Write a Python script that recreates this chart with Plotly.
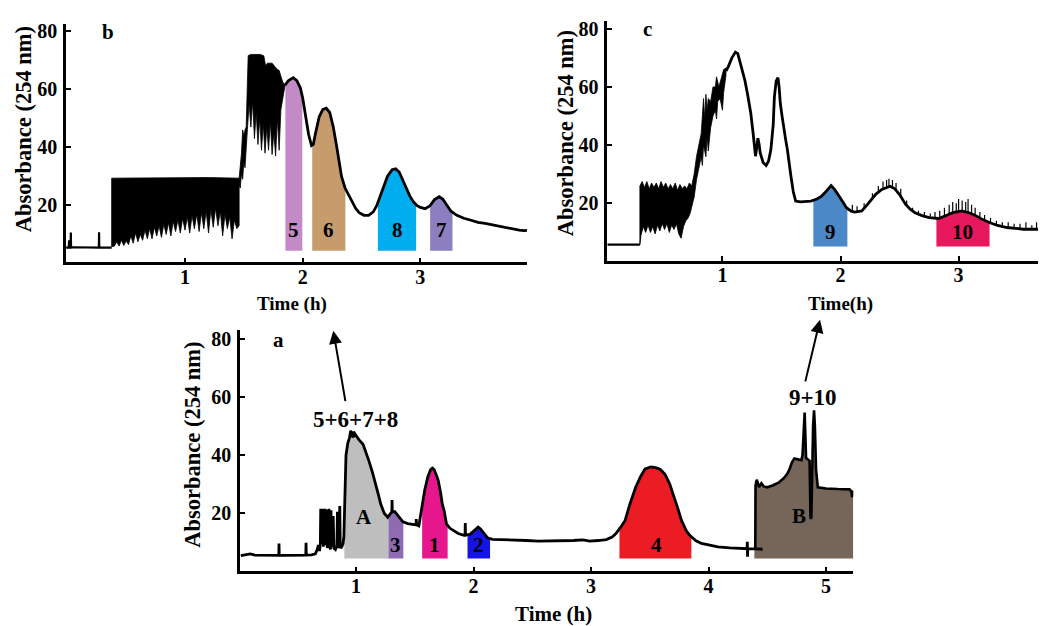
import numpy as np
import plotly.graph_objects as go

# page offset of the plot div (default body margin) and figure size
OFF = 8
W, H = 1046 - OFF, 626 - OFF

# ---------------- Panel b data (time h, absorbance) ----------------
b_baseline = [(-0.01, 5.5), (0.012, 5.5), (0.015, 8.0), (0.018, 5.5), (0.028, 5.5), (0.030, 10.7),
              (0.032, 5.5), (0.045, 5.6), (0.268, 5.5), (0.270, 10.8), (0.272, 5.5), (0.377, 5.5)]
b_noise1_top = [(0.377, 29.4), (0.60, 29.5), (0.90, 29.4), (1.20, 29.6), (1.46, 29.4)]
b_noise1_low = [(0.377, 5.8), (0.40, 6.0), (0.42, 7.5), (0.44, 6.0), (0.46, 8.0), (0.48, 6.2), (0.50, 7.8),
                (0.52, 6.5), (0.54, 9.5), (0.56, 7.0), (0.58, 10.5), (0.60, 7.5), (0.62, 10.0), (0.64, 8.0),
                (0.66, 11.5), (0.68, 8.5), (0.70, 12.0), (0.72, 8.5), (0.74, 12.5), (0.76, 9.5), (0.78, 13.0),
                (0.80, 9.0), (0.82, 13.5), (0.84, 10.0), (0.86, 14.0), (0.88, 9.5), (0.90, 14.5), (0.92, 11.0),
                (0.94, 15.0), (0.96, 10.5), (0.98, 15.5), (1.00, 11.5), (1.02, 16.0), (1.04, 10.5), (1.06, 16.5),
                (1.08, 12.0), (1.10, 17.0), (1.12, 11.0), (1.14, 17.5), (1.16, 12.0), (1.18, 18.0), (1.20, 10.5),
                (1.22, 18.5), (1.24, 12.5), (1.26, 19.0), (1.28, 13.0), (1.30, 18.0), (1.32, 9.5), (1.34, 17.0),
                (1.36, 12.0), (1.38, 16.0), (1.40, 8.5), (1.42, 15.0), (1.44, 12.0), (1.46, 13.0)]
b_noise2_top = [(1.46, 29.4), (1.47, 34.0), (1.48, 38.0), (1.49, 46.0), (1.50, 44.0), (1.51, 46.0), (1.52, 47.0),
                (1.53, 62.0), (1.537, 71.6), (1.56, 72.0), (1.60, 72.0), (1.64, 72.0), (1.67, 71.5), (1.685, 68.0),
                (1.70, 69.0), (1.74, 69.0), (1.76, 68.0), (1.78, 67.0), (1.80, 66.5), (1.83, 62.5), (1.85, 61.4)]
b_noise2_low = [(1.46, 27.0), (1.47, 26.0), (1.48, 31.0), (1.49, 29.0), (1.50, 35.0), (1.51, 33.0), (1.52, 40.0),
                (1.53, 46.0), (1.545, 55.0), (1.56, 47.0), (1.575, 56.0), (1.59, 43.0), (1.605, 52.0), (1.62, 41.0),
                (1.635, 50.0), (1.65, 39.0), (1.665, 48.0), (1.68, 38.0), (1.695, 47.0), (1.71, 39.0), (1.725, 49.0),
                (1.74, 37.5), (1.755, 45.0), (1.77, 37.0), (1.785, 50.0), (1.80, 39.0), (1.815, 53.0), (1.83, 57.0),
                (1.85, 61.4)]
b_curve = [(1.85, 61.4), (1.88, 63.0), (1.92, 64.0), (1.95, 63.0), (1.98, 60.5), (2.00, 57.0), (2.02, 52.0),
           (2.05, 44.5), (2.075, 40.6), (2.09, 41.0), (2.11, 45.0), (2.14, 50.5), (2.17, 53.0), (2.20, 53.5),
           (2.23, 52.0), (2.26, 47.0), (2.29, 40.0), (2.31, 35.0), (2.33, 30.0), (2.36, 26.0), (2.39, 23.5),
           (2.42, 21.0), (2.45, 19.0), (2.48, 17.5), (2.52, 16.6), (2.56, 16.6), (2.60, 17.8), (2.63, 20.0),
           (2.66, 23.5), (2.69, 27.0), (2.72, 30.0), (2.76, 32.3), (2.79, 32.6), (2.82, 31.5), (2.85, 29.0),
           (2.88, 26.0), (2.91, 23.3), (2.94, 21.3), (2.97, 20.0), (3.00, 19.3), (3.04, 18.9), (3.08, 19.8),
           (3.12, 22.0), (3.16, 23.0), (3.19, 22.2), (3.22, 20.2), (3.26, 18.0), (3.31, 16.6), (3.37, 15.6),
           (3.43, 14.9), (3.49, 14.2), (3.55, 13.8), (3.62, 13.2), (3.70, 12.5), (3.77, 12.0), (3.84, 11.5),
           (3.88, 11.3), (3.906, 11.4)]
b_bands = [("5", 1.853, 1.997, "#C28BC5"), ("6", 2.081, 2.363, "#C69C6D"),
           ("8", 2.639, 2.964, "#00AEEF"), ("7", 3.083, 3.273, "#8C7FC0")]
b_band_base = 4.4
b_band_label_y = 11.5

# ---------------- Panel c data ----------------
c_baseline = [(0.025, 5.8), (0.10, 5.8), (0.20, 5.8), (0.301, 5.8)]
c_noise1_top = [(0.301, 26.0), (0.32, 27.5), (0.34, 25.5), (0.36, 27.5), (0.38, 25.0), (0.40, 27.0), (0.42, 25.5),
                (0.44, 27.0), (0.46, 25.0), (0.48, 27.5), (0.50, 25.5), (0.52, 27.0), (0.54, 25.0), (0.56, 26.5),
                (0.58, 25.0), (0.60, 27.0), (0.62, 24.5), (0.64, 26.5), (0.66, 25.0), (0.68, 26.0), (0.70, 25.0),
                (0.72, 27.0), (0.74, 26.0)]
c_noise1_low = [(0.301, 5.8), (0.31, 9.0), (0.33, 12.0), (0.35, 10.0), (0.37, 12.5), (0.39, 10.0), (0.41, 12.0),
                (0.43, 9.5), (0.45, 12.5), (0.47, 10.5), (0.49, 13.0), (0.51, 11.0), (0.53, 13.0), (0.55, 10.0),
                (0.57, 12.5), (0.59, 11.0), (0.61, 13.0), (0.63, 9.5), (0.65, 8.0), (0.67, 12.0), (0.69, 14.0),
                (0.71, 15.0), (0.73, 17.0), (0.74, 19.0)]
c_noise2_top = [(0.74, 26.0), (0.76, 30.0), (0.78, 36.0), (0.80, 40.0), (0.82, 44.0), (0.83, 50.0), (0.84, 56.0),
                (0.85, 49.0), (0.86, 57.5), (0.87, 52.0), (0.88, 56.0), (0.90, 55.0), (0.92, 60.0), (0.94, 60.0),
                (0.95, 63.5), (0.97, 60.0), (0.99, 63.0), (1.01, 66.0), (1.03, 66.5)]
c_noise2_low = [(0.74, 19.0), (0.76, 22.0), (0.78, 28.0), (0.80, 32.0), (0.82, 36.0), (0.83, 33.0), (0.84, 40.0),
                (0.86, 36.0), (0.87, 43.0), (0.88, 38.0), (0.90, 46.0), (0.92, 50.0), (0.94, 52.0), (0.95, 49.0),
                (0.96, 55.0), (0.98, 56.0), (1.00, 52.0), (1.01, 58.0), (1.03, 64.0)]
c_curve = [(1.03, 65.5), (1.05, 67.0), (1.08, 70.0), (1.11, 72.0), (1.13, 71.5), (1.15, 68.6), (1.17, 66.0),
           (1.19, 62.3), (1.215, 57.0), (1.24, 51.0), (1.26, 44.0), (1.27, 38.4), (1.28, 36.2), (1.29, 39.0),
           (1.30, 42.4), (1.31, 40.5), (1.32, 37.3), (1.345, 34.0), (1.37, 33.0), (1.39, 34.5), (1.41, 38.4),
           (1.43, 47.0), (1.44, 56.6), (1.455, 62.0), (1.47, 63.2), (1.48, 60.0), (1.49, 54.4), (1.505, 50.0),
           (1.52, 45.3), (1.535, 42.0), (1.55, 38.4), (1.565, 33.0), (1.58, 29.3), (1.60, 24.0), (1.62, 20.8),
           (1.66, 20.5), (1.70, 20.6), (1.75, 20.8), (1.80, 21.5), (1.84, 22.5), (1.88, 24.2), (1.92, 26.1),
           (1.95, 24.8), (1.98, 23.1), (2.02, 20.5), (2.05, 18.5), (2.09, 17.3), (2.12, 17.0), (2.18, 17.4),
           (2.22, 19.2), (2.26, 21.4), (2.30, 23.2), (2.35, 24.8), (2.42, 25.9), (2.46, 25.0), (2.50, 23.0),
           (2.55, 19.7), (2.59, 18.0), (2.63, 16.8), (2.69, 15.8), (2.75, 15.1), (2.83, 14.8), (2.90, 15.9),
           (2.95, 16.8), (3.03, 17.4), (3.10, 16.6), (3.15, 15.7), (3.20, 14.5), (3.26, 13.4), (3.33, 12.4),
           (3.41, 11.7), (3.48, 11.3), (3.55, 11.1), (3.65, 11.1), (3.74, 11.1)]
c_spike_x = [2.10, 2.14, 2.20, 2.27, 2.32, 2.36, 2.39, 2.41, 2.44, 2.47, 2.51, 2.56, 2.61, 2.66, 2.71, 2.76,
             2.80, 2.84, 2.88, 2.92, 2.95, 2.98, 3.00, 3.03, 3.06, 3.08, 3.11, 3.14, 3.18, 3.22, 3.27, 3.32,
             3.37, 3.42, 3.47, 3.52, 3.57, 3.62, 3.66, 3.70]
c_spike_top = [19.5, 19.0, 20.0, 23.5, 26.0, 27.5, 28.0, 28.5, 28.0, 27.0, 25.0, 21.0, 18.5, 17.5, 17.0, 16.5,
               17.0, 17.5, 18.5, 19.5, 20.5, 20.0, 21.5, 21.0, 20.5, 21.5, 19.5, 18.5, 17.0, 16.0, 15.0, 14.0,
               13.5, 13.5, 13.0, 13.0, 13.5, 12.5, 13.5, 13.0]
c_bands = [("9", 1.770, 2.058, "#4A88C8"), ("10", 2.812, 3.262, "#E8185E")]
c_band_base = 5.2
c_band_label_y = 10.0

# ---------------- Panel a data ----------------
a_curve = [(0.02, 5.4), (0.06, 5.7), (0.10, 6.0), (0.14, 5.6), (0.20, 5.5), (0.26, 5.5), (0.343, 5.5),
           (0.345, 9.6), (0.347, 5.5), (0.40, 5.5), (0.48, 5.6), (0.573, 5.6), (0.575, 9.8), (0.577, 5.6),
           (0.62, 5.7), (0.655, 6.0), (0.67, 7.5), (0.68, 9.0), (0.69, 7.0), (0.697, 10.0), (0.700, 21.5),
           (0.703, 9.5), (0.712, 11.0), (0.717, 21.5), (0.722, 8.5), (0.730, 10.5), (0.735, 21.5), (0.740, 9.0),
           (0.748, 11.5), (0.752, 21.3), (0.756, 8.0), (0.765, 10.5), (0.770, 21.5), (0.775, 9.5), (0.783, 7.5),
           (0.787, 21.0), (0.792, 10.0), (0.800, 8.5), (0.806, 19.0), (0.812, 8.0), (0.825, 7.5), (0.838, 9.0),
           (0.842, 20.5), (0.846, 8.0), (0.855, 9.5), (0.862, 22.5), (0.866, 9.0), (0.870, 8.0), (0.880, 8.5),
           (0.890, 9.5), (0.897, 12.0), (0.905, 30.0), (0.915, 40.0), (0.93, 44.0), (0.945, 46.0), (0.955, 48.3),
           (0.965, 47.5), (0.975, 46.0), (0.98, 48.0), (0.995, 47.0), (1.01, 46.0), (1.03, 45.0), (1.06, 43.7),
           (1.085, 41.0), (1.11, 38.0), (1.14, 34.0), (1.17, 30.0), (1.19, 26.5), (1.21, 23.2), (1.24, 20.0),
           (1.27, 18.6), (1.29, 19.5), (1.305, 20.5), (1.307, 24.5), (1.309, 20.5), (1.33, 20.5), (1.35, 19.5),
           (1.37, 18.4), (1.40, 17.0), (1.44, 16.4), (1.49, 16.1), (1.511, 16.0), (1.513, 18.0), (1.515, 16.0),
           (1.535, 15.6), (1.545, 18.0), (1.56, 22.0), (1.585, 28.0), (1.61, 32.3), (1.635, 35.0), (1.65, 35.5),
           (1.665, 35.0), (1.685, 33.0), (1.70, 31.2), (1.72, 27.0), (1.735, 23.0), (1.75, 20.9), (1.77, 16.3),
           (1.80, 14.8), (1.83, 14.1), (1.87, 13.0), (1.92, 12.4), (1.928, 12.4), (1.930, 16.6), (1.932, 12.5),
           (1.97, 12.7), (2.01, 14.3), (2.04, 15.2), (2.06, 14.6), (2.09, 12.9), (2.12, 11.5), (2.16, 11.0),
           (2.25, 10.9), (2.34, 10.9), (2.45, 10.6), (2.55, 10.4), (2.65, 10.4), (2.75, 10.5), (2.85, 10.6),
           (2.93, 10.8), (2.99, 10.4), (3.06, 10.6), (3.13, 10.9), (3.18, 11.8), (3.21, 12.9), (3.25, 15.0),
           (3.29, 17.5), (3.33, 23.0), (3.38, 28.9), (3.42, 32.5), (3.46, 35.2), (3.51, 35.9), (3.55, 35.7),
           (3.59, 35.0), (3.63, 33.4), (3.67, 30.0), (3.70, 26.6), (3.74, 21.5), (3.77, 17.5), (3.81, 14.0),
           (3.84, 12.4), (3.89, 10.6), (3.94, 9.6), (4.01, 9.0), (4.08, 8.4), (4.18, 8.1), (4.28, 7.8),
           (4.328, 7.8), (4.330, 10.2), (4.332, 5.0), (4.334, 7.8), (4.40, 7.7), (4.46, 7.6)]
a_B_outline = [(4.398, 7.7), (4.400, 29.5), (4.41, 31.5), (4.42, 30.2), (4.43, 29.0), (4.45, 30.3), (4.47, 29.2),
               (4.50, 28.9), (4.55, 29.6), (4.60, 30.6), (4.64, 32.0), (4.67, 33.5), (4.69, 35.2), (4.71, 37.5),
               (4.73, 38.8), (4.76, 38.5), (4.79, 38.2), (4.80, 40.0), (4.812, 54.6), (4.818, 54.6), (4.83, 39.0),
               (4.86, 38.0), (4.868, 18.1), (4.875, 18.5), (4.89, 50.0), (4.898, 55.4), (4.905, 50.0), (4.915, 35.0),
               (4.93, 28.9), (5.00, 28.5), (5.10, 28.3), (5.20, 28.2), (5.215, 27.5), (5.222, 25.5), (5.232, 27.8)]
a_bands = [("A", 0.901, 1.276, "#BEBEBE"), ("3", 1.276, 1.403, "#8E6BB3"), ("1", 1.563, 1.780, "#E6168C"),
           ("2", 1.949, 2.141, "#1414E6"), ("4", 3.242, 3.854, "#EC1C24")]
a_B_band = ("B", 4.39, 5.232, "#76665A")
a_band_base = 4.4
a_label_pos = {"A": (1.065, 18.6), "3": (1.338, 8.9), "1": (1.668, 8.9), "2": (2.042, 8.9),
               "4": (3.559, 9.0), "B": (4.767, 19.2)}

# ---------------- helpers ----------------
def unzip(pairs):
    return [p[0] for p in pairs], [p[1] for p in pairs]


def band_poly(pairs, x0, x1, base):
    xs, ys = unzip(pairs)
    xs = np.asarray(xs, float)
    ys = np.asarray(ys, float)
    m = (xs > x0) & (xs < x1)
    px = [x0] + list(xs[m]) + [x1, x1, x0, x0]
    y0 = float(np.interp(x0, xs, ys))
    y1 = float(np.interp(x1, xs, ys))
    py = [y0] + list(ys[m]) + [y1, base, base, y0]
    return px, py


fig = go.Figure()


def add_fill(px, py, color, xa, ya):
    fig.add_trace(go.Scatter(x=px, y=py, mode="lines", fill="toself", fillcolor=color,
                             line=dict(width=0, color=color), xaxis=xa, yaxis=ya,
                             hoverinfo="skip", showlegend=False))


def add_noise(top, low, xa, ya):
    tx, ty = unzip(top)
    lx, ly = unzip(low)
    px = tx + lx[::-1] + [tx[0]]
    py = ty + ly[::-1] + [ty[0]]
    fig.add_trace(go.Scatter(x=px, y=py, mode="lines", fill="toself", fillcolor="black",
                             line=dict(width=0.8, color="black"), xaxis=xa, yaxis=ya,
                             hoverinfo="skip", showlegend=False))


def add_line(pairs, xa, ya, width=2.8):
    x, y = unzip(pairs)
    fig.add_trace(go.Scatter(x=x, y=y, mode="lines", line=dict(color="black", width=width),
                             xaxis=xa, yaxis=ya, hoverinfo="skip", showlegend=False))


annotations = []
SERIF = "Liberation Serif"
LBL = dict(family=SERIF, size=21, color="black", weight="bold")

# panel b (x2/y2)
for name, x0, x1, col in b_bands:
    px, py = band_poly(b_curve, x0, x1, b_band_base)
    add_fill(px, py, col, "x2", "y2")
    annotations.append(dict(x=(x0 + x1) / 2, y=b_band_label_y, xref="x2", yref="y2", text=name,
                            showarrow=False, font=LBL))
add_line(b_baseline, "x2", "y2", 2.2)
add_noise(b_noise1_top, b_noise1_low, "x2", "y2")
add_noise(b_noise2_top, b_noise2_low, "x2", "y2")
add_line(b_curve, "x2", "y2")

# panel c (x3/y3)
for name, x0, x1, col in c_bands:
    px, py = band_poly(c_curve, x0, x1, c_band_base)
    add_fill(px, py, col, "x3", "y3")
    annotations.append(dict(x=(x0 + x1) / 2, y=c_band_label_y, xref="x3", yref="y3", text=name,
                            showarrow=False, font=LBL))
add_line(c_baseline, "x3", "y3", 2.2)
add_noise(c_noise1_top, c_noise1_low, "x3", "y3")
add_noise(c_noise2_top, c_noise2_low, "x3", "y3")
cx, cy = unzip(c_curve)
sx, sy = [], []
for xv, tv in zip(c_spike_x, c_spike_top):
    sx += [xv, xv, None]
    sy += [float(np.interp(xv, cx, cy)), tv, None]
fig.add_trace(go.Scatter(x=sx, y=sy, mode="lines", line=dict(color="black", width=1.2),
                         xaxis="x3", yaxis="y3", hoverinfo="skip", showlegend=False))
add_line(c_curve, "x3", "y3")

# panel a (x/y)
for name, x0, x1, col in a_bands:
    px, py = band_poly(a_curve, x0, x1, a_band_base)
    add_fill(px, py, col, "x", "y")
name, x0, x1, col = a_B_band
px, py = band_poly(a_B_outline, x0, x1, a_band_base)
add_fill(px, py, col, "x", "y")
add_line(a_curve, "x", "y")
add_line(a_B_outline, "x", "y", 2.6)
for k, (lx, ly) in a_label_pos.items():
    annotations.append(dict(x=lx, y=ly, xref="x", yref="y", text=k, showarrow=False, font=LBL))

# arrows and group labels in panel a
GRP = dict(family=SERIF, size=23, color="black", weight="bold")
annotations.append(dict(x=0.998, y=52.3, xref="x", yref="y", text="5+6+7+8", showarrow=False, font=GRP))
annotations.append(dict(x=4.888, y=59.7, xref="x", yref="y", text="9+10", showarrow=False, font=GRP))
annotations.append(dict(x=0.807, y=82.7, ax=0.912, ay=58.0, xref="x", yref="y", axref="x", ayref="y",
                        text="", showarrow=True, arrowhead=2, arrowsize=1.3, arrowwidth=2, arrowcolor="black"))
annotations.append(dict(x=4.949, y=86.5, ax=4.821, ay=64.8, xref="x", yref="y", axref="x", ayref="y",
                        text="", showarrow=True, arrowhead=2, arrowsize=1.3, arrowwidth=2, arrowcolor="black"))


# page pixel -> paper coordinates
def PX(px_):
    return (px_ - OFF) / W


def PY(py_):
    return 1 - (py_ - OFF) / H


for (px_, py_, txt, ang, sz) in [
    (23, 126, "Absorbance (254 nm)", -90, 22.5), (565, 130, "Absorbance (254 nm)", -90, 22.5),
    (192.5, 444, "Absorbance (254 nm)", -90, 22.5),
    (291.5, 301.7, "Time (h)", 0, 19), (840, 301.7, "Time(h)", 0, 19), (553, 614, "Time (h)", 0, 21),
    (108, 28, "b", 0, 21), (647, 25, "c", 0, 21), (278.3, 338.3, "a", 0, 21)]:
    annotations.append(dict(x=PX(px_), y=PY(py_), xref="paper", yref="paper", text=txt, textangle=ang,
                            showarrow=False, font=dict(family=SERIF, size=sz, color="black", weight="bold"),
                            xanchor="center", yanchor="middle"))

TICKF = dict(family=SERIF, size=20, color="black", weight="bold")
AX = dict(showline=True, linecolor="black", linewidth=2.5, ticks="inside", ticklen=5, tickwidth=2,
          tickcolor="black", showgrid=False, zeroline=False, tickfont=TICKF)

fig.update_layout(
    width=W, height=H, autosize=False, margin=dict(l=0, r=0, t=0, b=0),
    paper_bgcolor="white", plot_bgcolor="white", showlegend=False,
    xaxis=dict(AX, domain=[PX(240), PX(853.3)], range=[0.013, 5.232], tickvals=[1, 2, 3, 4, 5],
               anchor="y", ticklabelstandoff=-5),
    yaxis=dict(AX, domain=[PY(571), PY(328)], range=[0, 83], tickvals=[20, 40, 60, 80],
               anchor="x", ticklabelstandoff=2),
    xaxis2=dict(AX, domain=[PX(66), PX(527)], range=[-0.011, 3.906], tickvals=[1, 2, 3],
                anchor="y2", ticklabelstandoff=-5),
    yaxis2=dict(AX, domain=[PY(260), PY(20)], range=[0.4, 82.5], tickvals=[20, 40, 60, 80],
                anchor="x2", ticklabelstandoff=2),
    xaxis3=dict(AX, domain=[PX(607.3), 1.0], range=[0.025, 3.74], tickvals=[1, 2, 3],
                anchor="y3", ticklabelstandoff=-5),
    yaxis3=dict(AX, domain=[PY(258.3), PY(16.7)], range=[0.3, 82.8], tickvals=[20, 40, 60, 80],
                anchor="x3", ticklabelstandoff=2),
    annotations=annotations,
)

fig.write_html("out.html")
